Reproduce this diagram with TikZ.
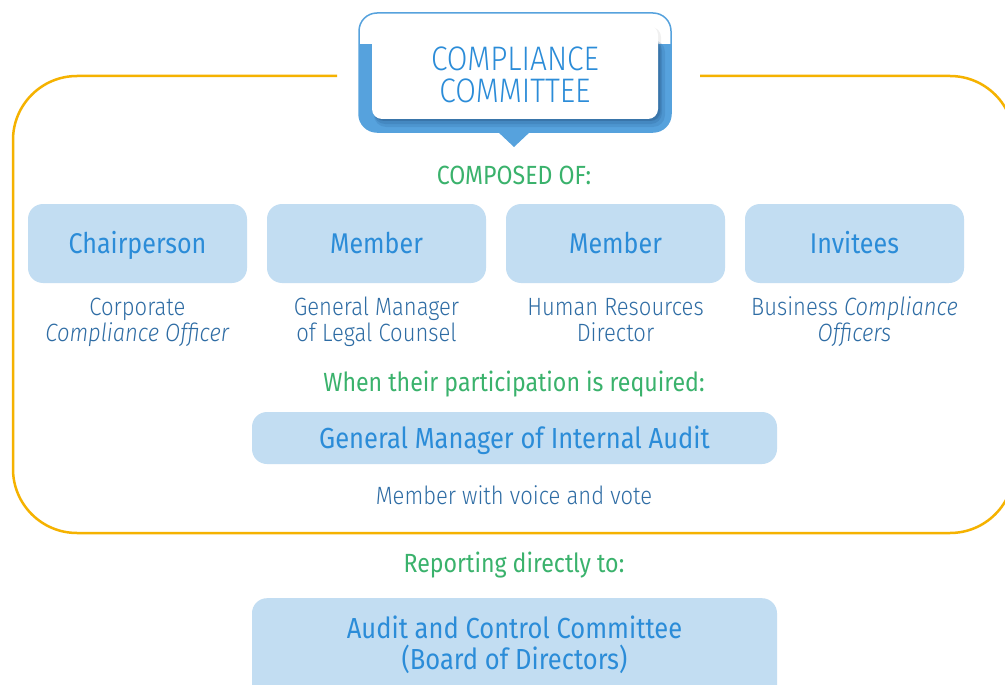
\documentclass[tikz,border=0pt]{standalone}
\usepackage{fontspec}
\setmainfont{Fira Sans}[FakeStretch=0.88]
\newfontfamily\lightfont{Fira Sans}[UprightFont=* Light, ItalicFont=* Light Italic, FakeStretch=0.88]
\definecolor{headblue}{RGB}{43,140,216}
\definecolor{descblue}{RGB}{46,108,164}
\definecolor{notegreen}{RGB}{58,178,108}
\definecolor{boxfill}{RGB}{194,221,242}
\definecolor{frameorange}{RGB}{245,178,0}
\definecolor{callblue}{RGB}{86,162,221}
\definecolor{shadeblue}{RGB}{45,100,155}
\tikzset{
  rolebox/.style={rounded corners=15pt, fill=boxfill, minimum width=219pt, minimum height=79pt,
    text=headblue, font=\fontsize{28.5}{32}\selectfont, text height=20pt, text depth=0pt, inner sep=0pt},
  widebox/.style={rounded corners=15pt, fill=boxfill, minimum width=525pt, minimum height=52pt,
    text=headblue, font=\fontsize{29}{32}\selectfont, text height=20pt, text depth=0pt, inner sep=0pt},
  desc/.style={text=descblue, font=\lightfont\fontsize{25}{26}\selectfont, anchor=base, inner sep=0pt},
  note/.style={text=notegreen, font=\fontsize{26.3}{28}\selectfont, anchor=base, inner sep=0pt},
  boxtext/.style={text=headblue, font=\fontsize{29}{32}\selectfont, anchor=base, inner sep=0pt},
  card/.style={rounded corners=10pt, fill=white, minimum width=286pt, minimum height=94pt, inner sep=0pt},
  cardtext/.style={text=headblue, font=\lightfont\fontsize{34}{32.5}\selectfont, align=center, inner sep=0pt},
}
\begin{document}
\begin{tikzpicture}[x=1pt,y=-1pt]
\useasboundingbox (0,0) rectangle (1005,685);
\fill[white] (0,0) rectangle (1005,685);
% orange frame
\draw[frameorange, line width=2.5pt, rounded corners=64pt]
  (337,76) -- (13,76) -- (13,533) -- (1014,533) -- (1014,76) -- (700,76);
% callout
\path[fill=white, rounded corners=18pt] (359,13) rectangle (671,132);
\begin{scope}
  \clip[rounded corners=18pt] (359,13) rectangle (671,132);
  \fill[callblue] (359,44) rectangle (671,132);
  \fill[shadeblue, opacity=0.2, rounded corners=12pt] (374,40) rectangle (665,127);
  \fill[shadeblue, opacity=0.25, rounded corners=11pt] (374,40) rectangle (662,124);
  \fill[shadeblue, opacity=0.3, rounded corners=10pt] (374,40) rectangle (660,121);
\end{scope}
\fill[black, opacity=0.06, rounded corners=10pt] (374,27) rectangle (661,121);
\draw[callblue, line width=1.5pt, rounded corners=18pt] (359,13) rectangle (671,132);
\fill[callblue] (497,131) -- (531,131) -- (514,147) -- cycle;
\node[card] (cc) at (515,72) {};
\node[cardtext] (cctext) at (515,75) {COMPLIANCE\\COMMITTEE};
% composed of
\node[note] (composed) at (514,184) {COMPOSED OF:};
\node[rolebox] (chair) at (137.5,243.5) {Chairperson};
\node[rolebox] (mem1) at (376.5,243.5) {Member};
\node[rolebox] (mem2) at (615.5,243.5) {Member};
\node[rolebox] (inv) at (854.5,243.5) {Invitees};
\node[desc] (d1a) at (137.5,315) {Corporate};
\node[desc] (d1b) at (137.5,341) {\textit{Compliance Officer}};
\node[desc] (d2a) at (376.5,315) {General Manager};
\node[desc] (d2b) at (376.5,341) {of Legal Counsel};
\node[desc] (d3a) at (615.5,315) {Human Resources};
\node[desc] (d3b) at (615.5,341) {Director};
\node[desc] (d4a) at (854.5,315) {Business \textit{Compliance}};
\node[desc] (d4b) at (854.5,341) {\textit{Officers}};
\node[note] (when) at (514,391) {When their participation is required:};
\node[widebox] (gmia) at (514.5,438) {General Manager of Internal Audit};
\node[desc] (voice) at (514,504) {Member with voice and vote};
\node[note] (report) at (514,572) {Reporting directly to:};
\node[rolebox, minimum width=525pt, minimum height=110pt, text height=0pt, anchor=north] (acc) at (514.5,598) {};
\node[boxtext] (acc1) at (514.5,638) {Audit and Control Committee};
\node[boxtext] (acc2) at (514.5,669) {(Board of Directors)};
\end{tikzpicture}
\end{document}
